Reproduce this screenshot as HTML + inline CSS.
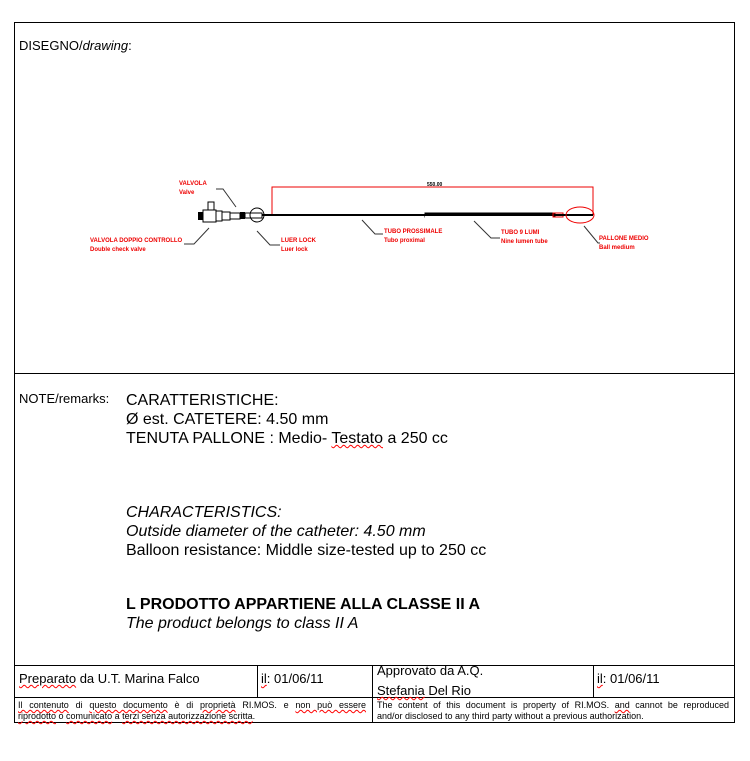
<!DOCTYPE html>
<html><head><style>
body{margin:0;background:#fff;width:750px;height:761px;position:relative;font-family:"Liberation Sans",sans-serif;overflow:hidden}
.a{position:absolute;white-space:nowrap}
.l{position:absolute;background:#000}
.sq{text-decoration:underline wavy red;text-decoration-thickness:1px}
.j{text-align:justify;text-align-last:justify;white-space:normal}
</style></head><body>
<div class="l" style="left:14px;top:22px;width:721px;height:1px"></div>
<div class="l" style="left:14px;top:722px;width:721px;height:1px"></div>
<div class="l" style="left:14px;top:22px;width:1px;height:701px"></div>
<div class="l" style="left:734px;top:22px;width:1px;height:701px"></div>
<div class="l" style="left:14px;top:373px;width:721px;height:1px"></div>
<div class="l" style="left:14px;top:665px;width:721px;height:1px"></div>
<div class="l" style="left:14px;top:697px;width:721px;height:1px"></div>
<div class="l" style="left:257px;top:665px;width:1px;height:32px"></div>
<div class="l" style="left:372px;top:665px;width:1px;height:58px"></div>
<div class="l" style="left:593px;top:665px;width:1px;height:32px"></div>

<div class="a" style="left:19px;top:38px;font-size:13px">DISEGNO/<i>drawing</i>:</div>
<div class="a" style="left:19px;top:391px;font-size:13px">NOTE/remarks:</div>
<div class="a" style="left:126px;top:391px;font-size:16px;line-height:19px">CARATTERISTICHE:<br>Ø est. CATETERE: 4.50 mm<br>TENUTA PALLONE : Medio- <span class="sq">Testato</span> a 250 cc</div>
<div class="a" style="left:126px;top:503px;font-size:16px;line-height:19px"><i>CHARACTERISTICS:<br>Outside diameter of the catheter: 4.50 mm</i><br>Balloon resistance: Middle size-tested up to 250 cc</div>
<div class="a" style="left:126px;top:595px;font-size:16px;line-height:19px"><b>L PRODOTTO APPARTIENE ALLA CLASSE II A</b><br><i>The product belongs to class II A</i></div>

<div class="a" style="left:19px;top:671px;font-size:13px"><span class="sq">Preparato</span> da U.T. Marina Falco</div>
<div class="a" style="left:261px;top:671px;font-size:13px"><span class="sq">il</span>: 01/06/11</div>
<div class="a" style="left:377px;top:663px;font-size:13px">Approvato da A.Q.</div>
<div class="a" style="left:377px;top:683px;font-size:13px"><span class="sq">Stefania</span> Del Rio</div>
<div class="a" style="left:597px;top:671px;font-size:13px"><span class="sq">il</span>: 01/06/11</div>
<div class="a j" style="left:18px;top:700px;font-size:9px;line-height:11px;width:348px"><span class="sq">Il contenuto</span> di <span class="sq">questo documento</span> è di <span class="sq">proprietà</span> RI.MOS. e <span class="sq">non può essere</span></div>
<div class="a" style="left:18px;top:711px;font-size:9px;line-height:11px"><span class="sq">riprodotto</span> o <span class="sq">comunicato</span> a <span class="sq">terzi senza autorizzazione scritta</span>.</div>
<div class="a j" style="left:377px;top:700px;font-size:9px;line-height:11px;width:352px">The content of this document is property of RI.MOS. <span class="sq">and</span> cannot be reproduced</div>
<div class="a" style="left:377px;top:711px;font-size:9px;line-height:11px">and/or disclosed to any third party without a previous authorization.</div>

<svg style="position:absolute;left:0;top:0" width="750" height="761">
<g fill="none" stroke-width="1">
<path d="M272 215V187H593V215" stroke="#e00"/>
<line x1="262" y1="215" x2="425" y2="215" stroke="#000" stroke-width="2"/>
<rect x="425" y="213" width="130" height="4" fill="#000" stroke="#000"/>
<rect x="425" y="216" width="128" height="1.5" fill="#fff"/>
<rect x="553" y="213" width="10" height="4" stroke="#e00"/>
<line x1="555" y1="215" x2="593" y2="215" stroke="#000" stroke-width="2"/>
<ellipse cx="580" cy="215" rx="14" ry="8" stroke="#e00"/>
<rect x="203" y="210" width="13" height="12" stroke="#000" fill="#fff"/>
<rect x="208" y="202" width="6" height="8" stroke="#000"/>
<rect x="198" y="212" width="5" height="8" fill="#000"/>
<rect x="216" y="211" width="6" height="10" stroke="#000"/>
<rect x="222" y="212" width="8" height="8" stroke="#000"/>
<rect x="230" y="213" width="10" height="6" stroke="#000"/>
<rect x="240" y="212" width="5" height="7" fill="#000"/>
<rect x="245" y="213" width="17" height="5" stroke="#000"/>
<circle cx="257" cy="215" r="7" stroke="#000"/>
<g stroke="#333">
<path d="M216 189H223L236 207"/>
<path d="M209 228L194 244H184"/>
<path d="M257 231L270 245H280"/>
<path d="M362 220L375 234H383"/>
<path d="M474 221L491 238H500"/>
<path d="M584 226L598 243H600"/>
</g>
</g>
<g fill="#e00" font-family="Liberation Sans,sans-serif" font-size="6" font-weight="bold">
<text x="179" y="185">VALVOLA</text><text x="179" y="194">Valve</text>
<text x="90" y="242">VALVOLA DOPPIO CONTROLLO</text><text x="90" y="251">Double check valve</text>
<text x="281" y="242">LUER LOCK</text><text x="281" y="251">Luer lock</text>
<text x="384" y="233">TUBO PROSSIMALE</text><text x="384" y="242">Tubo proximal</text>
<text x="501" y="234">TUBO 9 LUMI</text><text x="501" y="243">Nine lumen tube</text>
<text x="599" y="240">PALLONE MEDIO</text><text x="599" y="249">Ball medium</text>
<text x="427" y="186" fill="#000" font-size="5">550.00</text>
</g>
</svg>
</body></html>
